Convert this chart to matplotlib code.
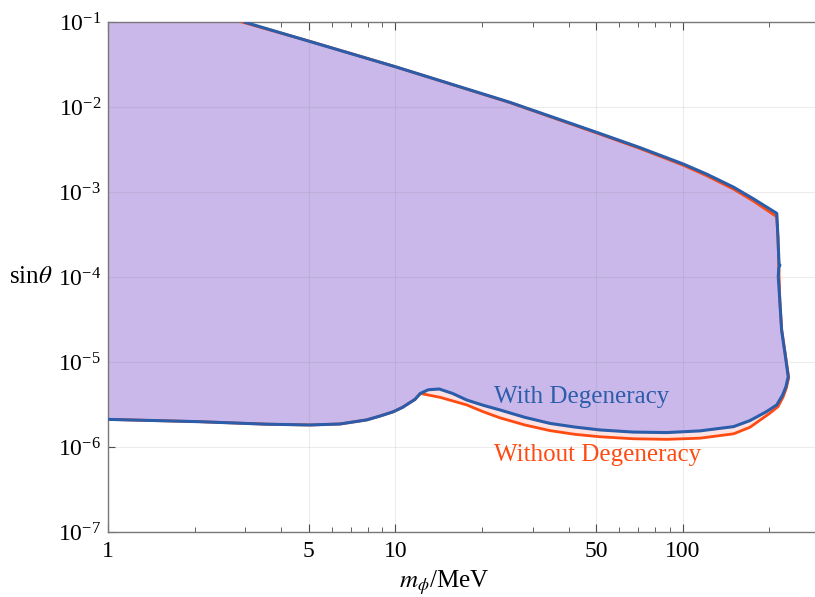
import matplotlib
matplotlib.use("Agg")
import matplotlib.pyplot as plt
from matplotlib.ticker import FixedLocator, FixedFormatter, NullFormatter

plt.rcParams['font.family'] = ['Liberation Serif', 'DejaVu Serif']
plt.rcParams['mathtext.fontset'] = 'stix'

# boundary with degeneracy (blue), traced clockwise from the top edge
blue_m = [3.0, 5.0, 10, 25, 50, 70.8, 100, 120.8, 150, 175.7, 212,
          214, 216, 217.5, 215.5, 214.6, 217.5, 220.4, 226.4, 232.4, 228.2, 222.2, 212,
          195, 171, 150, 114.6, 87.8, 67.2, 51.4, 42.1, 34.5, 28.2, 23.1, 20.2, 17.7,
          15.8, 14.2, 13.0, 12.2, 11.7, 10.6, 9.83, 8.83, 7.94, 6.41, 5.04, 3.56, 2.09, 1.0]
blue_s = [0.1, 0.060, 0.030, 0.01146, 5.09e-3, 3.36e-3, 2.16e-3, 1.64e-3, 1.15e-3, 8.4e-4, 5.66e-4,
          3.0e-4, 1.39e-4, 1.39e-4, 1.3e-4, 1.02e-4, 5.0e-5, 2.4e-5, 1.28e-5, 6.78e-6, 5.17e-6, 4.12e-6, 3.15e-6,
          2.62e-6, 2.06e-6, 1.75e-6, 1.56e-6, 1.49e-6, 1.51e-6, 1.60e-6, 1.73e-6, 1.91e-6, 2.25e-6, 2.75e-6, 3.12e-6, 3.60e-6,
          4.3e-6, 4.85e-6, 4.75e-6, 4.3e-6, 3.67e-6, 2.96e-6, 2.62e-6, 2.33e-6, 2.1e-6, 1.88e-6, 1.83e-6, 1.87e-6, 2.0e-6, 2.13e-6]

# boundary without degeneracy (orange)
red_m = [2.95, 5.0, 10, 25, 50, 70.8, 100, 120.8, 150, 175.7, 212,
         214, 215.5, 216, 217.5, 220.6, 227, 233.3, 229, 223, 214,
         200, 171, 150, 114.6, 87.8, 67.2, 51.4, 42.1, 34.5, 28.2, 23.1, 20.2, 17.7, 14.3,
         12.2, 11.7, 10.6, 9.83, 8.83, 7.94, 6.41, 5.04, 3.56, 2.09, 1.0]
red_s = [0.1, 0.0602, 0.030, 0.01136, 5.0e-3, 3.28e-3, 2.09e-3, 1.57e-3, 1.09e-3, 7.9e-4, 5.16e-4,
         3.0e-4, 1.39e-4, 1.02e-4, 5.0e-5, 2.4e-5, 1.25e-5, 6.6e-6, 5.0e-6, 3.9e-6, 3.0e-6,
         2.5e-6, 1.72e-6, 1.44e-6, 1.28e-6, 1.24e-6, 1.26e-6, 1.33e-6, 1.42e-6, 1.57e-6, 1.83e-6, 2.22e-6, 2.62e-6, 3.15e-6, 3.87e-6,
         4.3e-6, 3.67e-6, 2.96e-6, 2.62e-6, 2.33e-6, 2.1e-6, 1.88e-6, 1.83e-6, 1.87e-6, 2.0e-6, 2.13e-6]

x_ticks = [1, 5, 10, 50, 100]
x_tick_labels = ["1", "5", "10", "50", "100"]
x_minor = [2, 3, 4, 6, 7, 8, 9, 20, 30, 40, 60, 70, 80, 90, 200]
y_ticks = [1e-7, 1e-6, 1e-5, 1e-4, 1e-3, 1e-2, 1e-1]

purple = "#CAB8EA"
pink = "#FFE2E2"
blue = "#2B5DAA"
orange = "#FF4A12"

fig = plt.figure(figsize=(8.15, 5.97), dpi=100)
ax = fig.add_axes([0.1325, 0.1084, 0.8675, 0.8542])
ax.set_xscale("log")
ax.set_yscale("log")
ax.set_xlim(1, 288)
ax.set_ylim(1e-7, 1e-1)

# filled regions (closed with the top-left corner)
ax.fill(red_m + [1.0], red_s + [0.1], color=pink, lw=0, zorder=1)
ax.fill(blue_m + [1.0], blue_s + [0.1], color=purple, lw=0, zorder=2)
ax.plot(red_m, red_s, color=orange, lw=2.0, zorder=3, solid_joinstyle='round')
ax.plot(blue_m, blue_s, color=blue, lw=2.2, zorder=4, solid_joinstyle='round')

ax.text(22.0, 3.91e-6, "With Degeneracy", color=blue, fontsize=18,
        ha="left", va="center", zorder=5)
ax.text(22.0, 8.1e-7, "Without Degeneracy", color=orange, fontsize=18,
        ha="left", va="center", zorder=5)

# grid on top, faint
for xv in x_ticks:
    ax.axvline(xv, color="gray", alpha=0.15, lw=0.8, zorder=6)
for yv in y_ticks:
    ax.axhline(yv, color="gray", alpha=0.15, lw=0.8, zorder=6)

ax.xaxis.set_major_locator(FixedLocator(x_ticks))
ax.xaxis.set_major_formatter(FixedFormatter(x_tick_labels))
ax.xaxis.set_minor_locator(FixedLocator(x_minor))
ax.xaxis.set_minor_formatter(NullFormatter())
ax.yaxis.set_major_locator(FixedLocator(y_ticks))
ax.yaxis.set_minor_locator(FixedLocator([]))

ax.tick_params(axis="both", which="both", direction="in", colors="#444444",
               labelcolor="black", labelsize=17)
ax.tick_params(axis="x", which="both", top=True, pad=6)
ax.tick_params(axis="x", which="major", length=6, width=0.8)
ax.tick_params(axis="x", which="minor", length=3.5, width=0.6)
ax.tick_params(axis="y", which="major", length=5, width=0.8, pad=5)

for side in ["left", "bottom", "top"]:
    ax.spines[side].set_color("#777777")
    ax.spines[side].set_linewidth(1.0)
ax.spines["right"].set_visible(False)

ax.set_xlabel(r"$m_\phi$/MeV", fontsize=18)
ax.xaxis.set_label_coords(0.475, -0.07)
ax.set_ylabel(r"sin$\theta$", fontsize=18, rotation=0, ha="right", va="center")
ax.yaxis.set_label_coords(-0.078, 0.5)

fig.savefig("out.png", dpi=100)
